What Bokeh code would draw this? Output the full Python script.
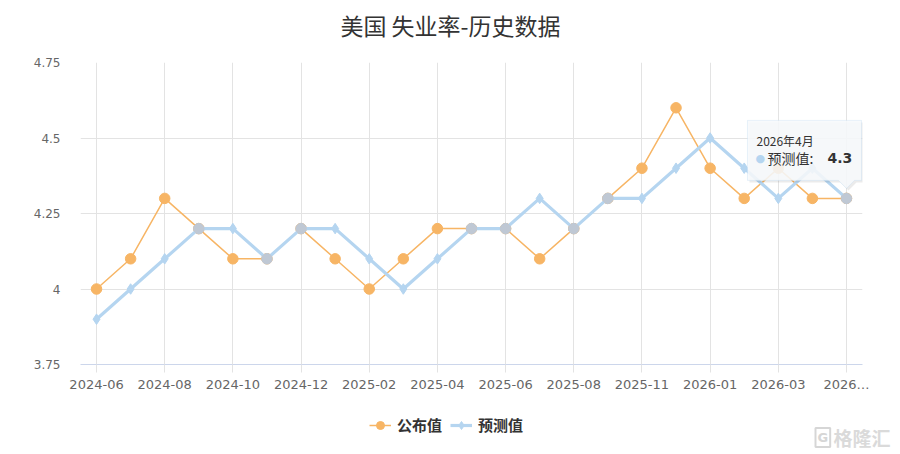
from bokeh.plotting import figure
from bokeh.layouts import column
from bokeh.models import (Range1d, FixedTicker, Legend, LegendItem, Label, PolyAnnotation)
from bokeh.embed import file_html
from bokeh.resources import INLINE

# ---- data ----
months = ["2024-06", "2024-07", "2024-08", "2024-09", "2024-10", "2024-11", "2024-12",
          "2025-01", "2025-02", "2025-03", "2025-04", "2025-05", "2025-06", "2025-07",
          "2025-08", "2025-09", "2025-11", "2025-12", "2026-01", "2026-02", "2026-03",
          "2026-03", "2026…"]
published = [4.0, 4.1, 4.3, 4.2, 4.1, 4.1, 4.2, 4.1, 4.0, 4.1, 4.2, 4.2, 4.2, 4.1,
             4.2, 4.3, 4.4, 4.6, 4.4, 4.3, 4.4, 4.3, 4.3]
forecast = [3.9, 4.0, 4.1, 4.2, 4.2, 4.1, 4.2, 4.2, 4.1, 4.0, 4.1, 4.2, 4.2, 4.3,
            4.2, 4.3, 4.3, 4.4, 4.5, 4.4, 4.3, 4.4, 4.3]
y_ticks = [3.75, 4.0, 4.25, 4.5, 4.75]
y_tick_labels = ["3.75", "4", "4.25", "4.5", "4.75"]
title_text = "美国 失业率-历史数据"
series_names = ["公布值", "预测值"]
tooltip_date = "2026年4月"
watermark = "格隆汇"

ORANGE = "#f7b565"
BLUE = "#b5d5f0"
OVERLAP = "#bfc8d4"
GRID = "#e3e3e3"
FONT_CJK = "Noto Sans CJK SC"

n = len(months)
xs = list(range(n))


def strip(height):
    f = figure(width=900, height=height, output_backend="svg", toolbar_location=None,
               x_range=Range1d(0, 1), y_range=Range1d(0, 1), x_axis_type=None,
               y_axis_type=None, min_border=0)
    f.frame_align = False
    f.outline_line_color = None
    f.grid.visible = False
    return f


# ---- title strip ----
tf = strip(40)
tf.add_layout(Label(x=450, y=16, x_units="screen", y_units="screen", text=title_text,
                    text_font=FONT_CJK, text_font_size="23px", text_color="#333333",
                    text_align="center", text_baseline="middle"))

# ---- main chart ----
p = figure(width=900, height=354, output_backend="svg", toolbar_location=None,
           x_range=Range1d(-0.47, n - 1 + 0.47), y_range=Range1d(y_ticks[0], y_ticks[-1]),
           min_border_left=80, min_border_right=38, min_border_top=22, min_border_bottom=30)
p.frame_align = False
p.outline_line_color = None
p.background_fill_color = "white"
p.border_fill_color = "white"

p.xaxis.ticker = FixedTicker(ticks=xs[::2])
p.xaxis.major_label_overrides = {i: months[i] for i in xs}
p.xaxis.axis_line_color = "#ccd6eb"
p.xaxis.major_tick_line_color = GRID
p.xaxis.major_tick_out = 8
p.xaxis.major_tick_in = 0
p.xaxis.minor_tick_line_color = None
p.xaxis.major_label_text_font = "DejaVu Sans"
p.xaxis.major_label_text_font_size = "13px"
p.xaxis.major_label_text_color = "#666666"
p.xaxis.major_label_standoff = 4

p.yaxis.ticker = FixedTicker(ticks=y_ticks)
p.yaxis.major_label_overrides = {t: l for t, l in zip(y_ticks, y_tick_labels)}
p.yaxis.axis_line_color = None
p.yaxis.major_tick_line_color = None
p.yaxis.minor_tick_line_color = None
p.yaxis.major_tick_out = 0
p.yaxis.major_tick_in = 0
p.yaxis.major_label_text_font = "DejaVu Sans"
p.yaxis.major_label_text_font_size = "12px"
p.yaxis.major_label_text_color = "#666666"
p.yaxis.major_label_standoff = 20

p.xgrid.grid_line_color = GRID
p.xgrid.grid_line_width = 1
p.ygrid.grid_line_color = GRID
p.ygrid.grid_line_width = 1

# series
p.line(xs, published, line_color=ORANGE, line_width=1.5)
p.scatter(xs, published, marker="circle", size=10.5, fill_color=ORANGE, line_color=ORANGE)
p.line(xs, forecast, line_color=BLUE, line_width=3.2)
p.scatter(xs, forecast, marker="diamond", size=10.5, fill_color=BLUE, line_color=BLUE)

# where both series coincide, markers overlap into a grey-blue dot
same_x = [x for x in xs if published[x] == forecast[x]]
same_y = [published[x] for x in same_x]
p.scatter(same_x, same_y, marker="circle", size=10.5, fill_color=OVERLAP, line_color=OVERLAP)

# tooltip at the last point
xl, yl = n - 1, forecast[-1]
sx = 34.09   # px per x unit
sy = 302.0   # px per y unit
def dx(px):
    return xl + px / sx
def dy(py):
    return yl - py / sy
L, R = -99, 15
box_x = [dx(L), dx(R), dx(R), dx(8), dx(0), dx(-8), dx(L)]
box_y = [dy(-78), dy(-78), dy(-18), dy(-18), dy(-10), dy(-18), dy(-18)]
shadow = PolyAnnotation(xs=[v + 2 / sx for v in box_x], ys=[v - 2 / sy for v in box_y],
                        fill_color="#000000", fill_alpha=0.08, line_color=None)
p.add_layout(shadow)
box = PolyAnnotation(xs=box_x, ys=box_y, fill_color="#f7f9fc", fill_alpha=0.88,
                     line_color="#b5d5f0", line_width=1)
p.add_layout(box)
p.add_layout(Label(x=xl, y=yl, x_offset=L + 9, y_offset=58, text=tooltip_date,
                   text_font=FONT_CJK, text_font_size="12px", text_color="#333333",
                   text_baseline="middle"))
p.add_layout(Label(x=xl, y=yl, x_offset=L + 8, y_offset=40, text="●",
                   text_font="DejaVu Sans", text_font_size="11px", text_color=BLUE,
                   text_baseline="middle"))
p.add_layout(Label(x=xl, y=yl, x_offset=L + 20, y_offset=40, text=series_names[1] + ":",
                   text_font=FONT_CJK, text_font_size="14px", text_color="#333333",
                   text_baseline="middle"))
p.add_layout(Label(x=xl, y=yl, x_offset=L + 80, y_offset=40, text=str(forecast[-1]),
                   text_font="DejaVu Sans", text_font_size="14px", text_font_style="bold",
                   text_color="#333333", text_baseline="middle"))

# ---- legend strip ----
lg = strip(60)
nan = [float("nan")]
l1 = lg.line(nan, nan, line_color=ORANGE, line_width=1.5)
c1 = lg.scatter(nan, nan, marker="circle", size=10.5, fill_color=ORANGE, line_color=ORANGE)
l2 = lg.line(nan, nan, line_color=BLUE, line_width=3.2)
c2 = lg.scatter(nan, nan, marker="diamond", size=10.5, fill_color=BLUE, line_color=BLUE)
legend = Legend(items=[LegendItem(label=series_names[0], renderers=[l1, c1]),
                       LegendItem(label=series_names[1], renderers=[l2, c2])],
                orientation="horizontal", location=(369, 19),
                label_text_font=FONT_CJK, label_text_font_style="bold",
                label_text_font_size="15px", label_text_color="#333333",
                glyph_width=22, label_standoff=6, spacing=8, margin=0, padding=8,
                border_line_color=None, background_fill_alpha=0)
lg.add_layout(legend)
lg.add_layout(Label(x=815, y=17, x_units="screen", y_units="screen", text="G",
                    text_font="DejaVu Sans", text_font_size="13px", text_font_style="bold",
                    text_color="#d6d6d6", text_baseline="middle",
                    border_line_color="#d6d6d6", border_line_width=2, padding=2))
lg.add_layout(Label(x=833, y=17, x_units="screen", y_units="screen", text=watermark,
                    text_font=FONT_CJK, text_font_size="19px", text_font_style="bold",
                    text_color="#dadada", text_baseline="middle"))

open("out.html", "w").write(file_html(column(tf, p, lg, spacing=0), INLINE))
